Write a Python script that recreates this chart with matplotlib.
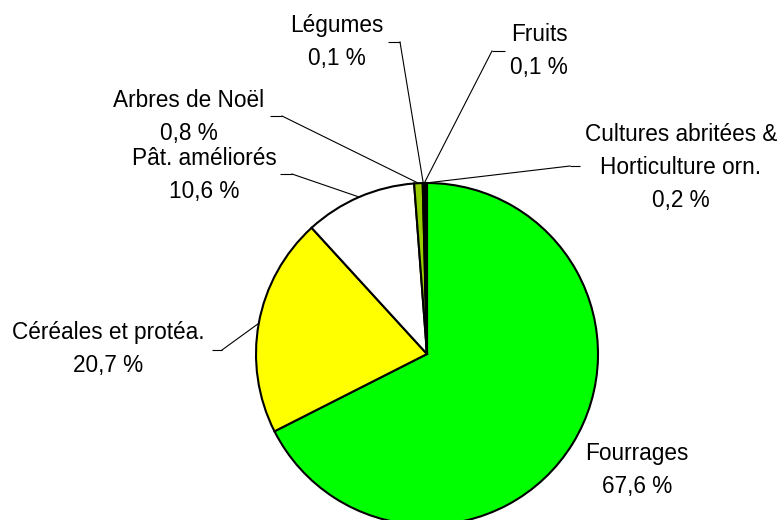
import numpy as np
import matplotlib
matplotlib.use("Agg")
import matplotlib.pyplot as plt

# ---- data ----
categories = ["Fourrages", "Céréales et protéa.", "Pât. améliorés", "Arbres de Noël",
              "Légumes", "Fruits", "Cultures abritées &\nHorticulture orn."]
values = [67.6, 20.7, 10.6, 0.8, 0.1, 0.1, 0.2]
value_labels = ["67,6 %", "20,7 %", "10,6 %", "0,8 %", "0,1 %", "0,1 %", "0,2 %"]
colors = ["#00FF00", "#FFFF00", "#FFFFFF", "#99CC00", "#333333", "#222222", "#111111"]

W, H = 783, 520
fig = plt.figure(figsize=(W / 100, H / 100), dpi=100)
ax = fig.add_axes([0, 0, 1, 1])
ax.set_xlim(0, W)
ax.set_ylim(0, H)
ax.set_aspect("equal")
ax.axis("off")

cx, cy_img, R = 427, 354, 171
center = (cx, H - cy_img)
wedges, _ = ax.pie(values, colors=colors, startangle=90, counterclock=False,
                   center=center, radius=R, frame=True,
                   wedgeprops=dict(edgecolor="black", linewidth=1.5))
ax.set_xlim(0, W)
ax.set_ylim(0, H)
ax.axis("off")

font = dict(family=["Liberation Sans", "DejaVu Sans"], fontsize=16.3, color="black")

# label layout (image pixel coords: centre x, first line centre y), stub (x0, x1, y), join x
layout = [
    (637, 452, None),
    (108, 331, (212, 222, 350, 222)),
    (204, 157, (280, 292, 174, 292)),
    (189, 99, (270, 282, 116, 282)),
    (337, 24, (388, 400, 42, 400)),
    (539, 33, (492, 505, 51, 492)),
    (681, 133, (570, 580, 166, 570)),
]
line_gap = 33

for w, cat, vl, (lx, ly, stub) in zip(wedges, categories, value_labels, layout):
    lines = cat.split("\n") + [vl]
    for i, t in enumerate(lines):
        ax.text(lx, H - (ly + i * line_gap + 8), t, ha="center", va="baseline", **font)
    if stub is not None:
        ang = np.deg2rad((w.theta1 + w.theta2) / 2)
        ex = cx + R * np.cos(ang)
        ey = (H - cy_img) + R * np.sin(ang)
        x0, x1, sy, jx = stub
        ax.plot([x0, x1], [H - sy, H - sy], color="black", lw=0.8, solid_capstyle="butt")
        ax.plot([jx, ex], [H - sy, ey], color="black", lw=0.8)

fig.savefig("out.png", dpi=100)
